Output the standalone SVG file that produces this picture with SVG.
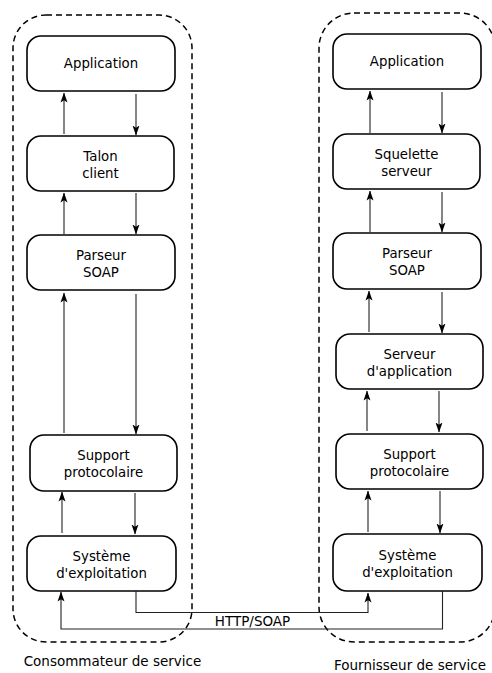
<svg xmlns="http://www.w3.org/2000/svg" width="492" height="673" viewBox="0 0 492 673">
<style>
.box{fill:#fff;stroke:#000;stroke-width:1.6}
.grp{fill:none;stroke:#000;stroke-width:1.5;stroke-dasharray:6,4}
.t{font-family:"DejaVu Sans",sans-serif;font-size:13.3px;fill:#000;text-anchor:middle}
.lb{font-family:"DejaVu Sans",sans-serif;font-size:13.5px;fill:#000;text-anchor:middle}
.c{fill:none;stroke:#222;stroke-width:1.1}
</style>
<defs>
<marker id="ah" viewBox="0 0 10 8" refX="9.5" refY="4" markerWidth="10" markerHeight="8" markerUnits="userSpaceOnUse" orient="auto">
<path d="M0,0.5 L10,4 L0,7.5 L2.2,4 Z" fill="#000"/>
</marker>
</defs>
<rect class="grp" x="13" y="15" width="179" height="627" rx="33" ry="33"/>
<rect class="grp" x="319" y="13" width="176" height="629" rx="35" ry="35"/>
<g id="l-app"><rect class="box" x="27" y="36" width="148" height="55" rx="14"/><text class="t" x="101" y="68">Application</text></g>
<g id="l-talon"><rect class="box" x="27" y="136" width="147" height="55" rx="14"/><text class="t" x="100.5" y="161">Talon</text><text class="t" x="100.5" y="178">client</text></g>
<g id="l-parseur"><rect class="box" x="27" y="235" width="148" height="55" rx="14"/><text class="t" x="101" y="260">Parseur</text><text class="t" x="101" y="277">SOAP</text></g>
<g id="l-support"><rect class="box" x="30" y="435" width="147" height="56" rx="14"/><text class="t" x="103.5" y="460">Support</text><text class="t" x="103.5" y="477">protocolaire</text></g>
<g id="l-sys"><rect class="box" x="27" y="536" width="149" height="55" rx="14"/><text class="t" x="101.5" y="561">Système</text><text class="t" x="101.5" y="578">d'exploitation</text></g>
<g id="r-app"><rect class="box" x="333" y="34" width="148" height="55" rx="14"/><text class="t" x="407" y="66">Application</text></g>
<g id="r-squel"><rect class="box" x="333" y="134" width="147" height="55" rx="14"/><text class="t" x="406.5" y="159">Squelette</text><text class="t" x="406.5" y="176">serveur</text></g>
<g id="r-parseur"><rect class="box" x="333" y="233" width="148" height="56" rx="14"/><text class="t" x="407" y="258">Parseur</text><text class="t" x="407" y="275">SOAP</text></g>
<g id="r-serveur"><rect class="box" x="336" y="334" width="147" height="55" rx="14"/><text class="t" x="409.5" y="359">Serveur</text><text class="t" x="409.5" y="376">d'application</text></g>
<g id="r-support"><rect class="box" x="336" y="434" width="147" height="55" rx="14"/><text class="t" x="409.5" y="459">Support</text><text class="t" x="409.5" y="476">protocolaire</text></g>
<g id="r-sys"><rect class="box" x="333" y="534" width="149" height="57" rx="14"/><text class="t" x="407.5" y="560">Système</text><text class="t" x="407.5" y="577">d'exploitation</text></g>
<g id="connectors">
<path class="c" marker-end="url(#ah)" d="M64,134 V93"/>
<path class="c" marker-end="url(#ah)" d="M136,94 V135"/>
<path class="c" marker-end="url(#ah)" d="M64,234 V193"/>
<path class="c" marker-end="url(#ah)" d="M136,193 V234"/>
<path class="c" marker-end="url(#ah)" d="M64,433 V293"/>
<path class="c" marker-end="url(#ah)" d="M136,294 V434"/>
<path class="c" marker-end="url(#ah)" d="M62,533 V492"/>
<path class="c" marker-end="url(#ah)" d="M135,493 V534"/>
<path class="c" marker-end="url(#ah)" d="M370,133 V91"/>
<path class="c" marker-end="url(#ah)" d="M442,92 V133"/>
<path class="c" marker-end="url(#ah)" d="M370,232 V191"/>
<path class="c" marker-end="url(#ah)" d="M442,192 V232"/>
<path class="c" marker-end="url(#ah)" d="M369,332 V291"/>
<path class="c" marker-end="url(#ah)" d="M442,292 V333"/>
<path class="c" marker-end="url(#ah)" d="M367,431 V391"/>
<path class="c" marker-end="url(#ah)" d="M439,391 V432"/>
<path class="c" marker-end="url(#ah)" d="M368,532 V491"/>
<path class="c" marker-end="url(#ah)" d="M440,491 V533"/>
<path class="c" marker-end="url(#ah)" d="M136,591 V612.5 H368 V593"/>
<path class="c" marker-end="url(#ah)" d="M442.5,591 V629 H61 V592"/>
<text class="lb" x="252.5" y="626">HTTP/SOAP</text>
</g>
<text class="lb" x="112.5" y="666">Consommateur de service</text>
<text class="lb" x="410" y="670">Fournisseur de service</text>
</svg>
